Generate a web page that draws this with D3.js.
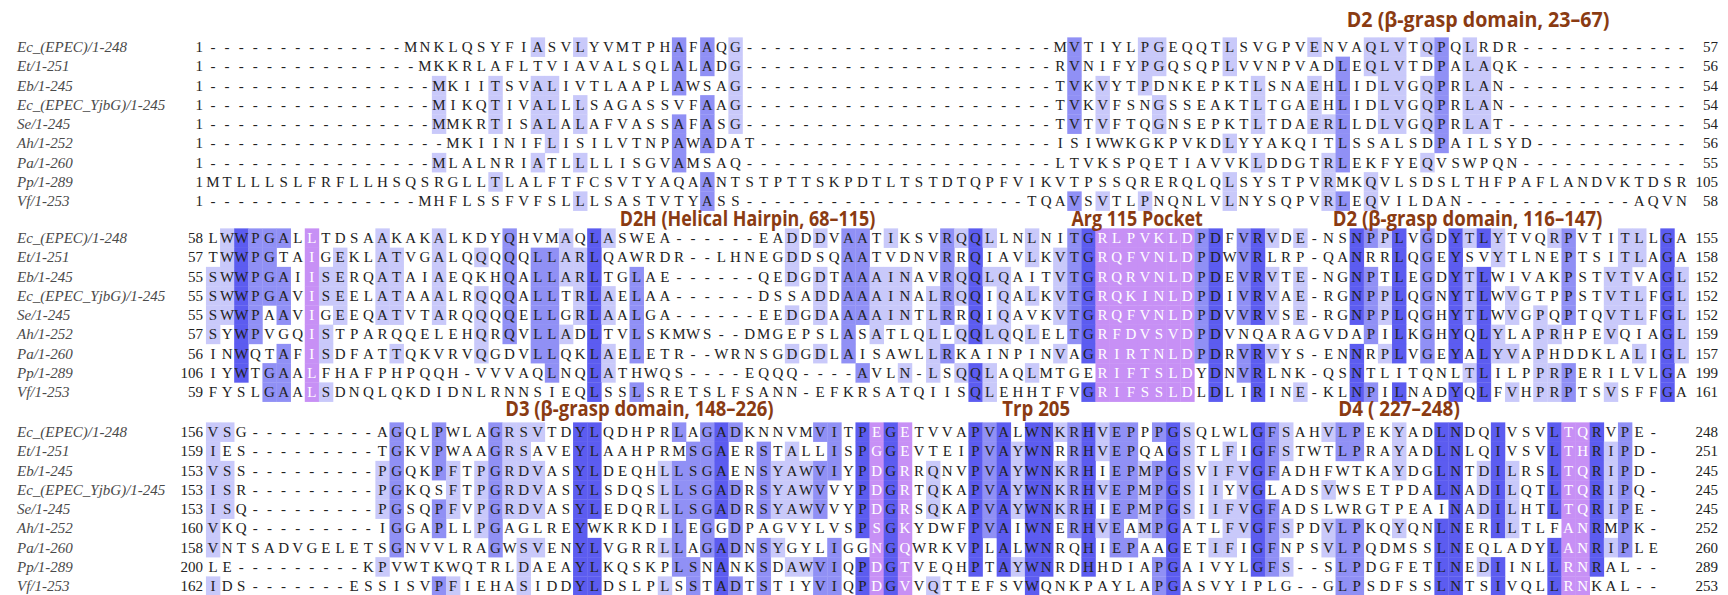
<!DOCTYPE html>
<html>
<head>
<meta charset="utf-8">
<title>YjbG family alignment</title>
<script src="https://cdnjs.cloudflare.com/ajax/libs/d3/7.8.5/d3.min.js"></script>
<style>
  html, body { margin: 0; padding: 0; background: #fff; }
  svg { display: block; }
  .seqname { font-family: "Liberation Serif", "DejaVu Serif", serif; font-style: italic; font-size: 15px; fill: #4a4a4a; }
  .pos { font-family: "Liberation Serif", "DejaVu Serif", serif; font-size: 15px; fill: #222; }
  .res { font-family: "Liberation Serif", "DejaVu Serif", serif; font-size: 15px; }
  .domain { font-family: "Open Sans", "Noto Sans", sans-serif; font-weight: 700; font-size: 21px; fill: #8a3b12; }
</style>
</head>
<body>
<svg id="aln" width="1728" height="595"></svg>
<script>
// ---- alignment data -------------------------------------------------------
const seqNames = [
  "Ec_(EPEC)/1-248", "Et/1-251", "Eb/1-245", "Ec_(EPEC_YjbG)/1-245",
  "Se/1-245", "Ah/1-252", "Pa/1-260", "Pp/1-289", "Vf/1-253"
];

// block 1: alignment columns 1-105
const block1 = [
  "--------------MNKLQSYFIASVLYVMTPHAFAQG----------------------MVTIYLPGEQQTLSVGPVENVAQLVTQPQLRDR------------",
  "---------------MKKRLAFLTVIAVALSQLALADG----------------------RVNIFYPGQSQPLVVNPVADLEQLVTDPALAQK------------",
  "----------------MKIITSVALIVTLAAPLAWSAG----------------------TVKVYTPDNKEPKTLSNAEHLIDLVGQPRLAN-------------",
  "----------------MIKQTIVALLLSAGASSVFAAG----------------------TVKVFSNGSSEAKTLTGAEHLIDLVGQPRLAN-------------",
  "----------------MMKRTISALALAFVASSAFASG----------------------TVTVFTQGNSEPKTLTDAERLLDLVGQPRLAT-------------",
  "-----------------MKIINIFLISILVTNPAWADAT---------------------ISIWWKGKPVKDLYYAKQITLSSALSDPAILSYD-----------",
  "----------------MLALNRIATLLLLISGVAMSAQ----------------------LTVKSPQETIAVVKLDDGTRLEKFYEQVSWPQN------------",
  "MTLLLSLFRFLLHSQSRGLLTLALFTFCSVTYAQAANTSTPTTSKPDTLTSTDTQPFVIKVTPSSQRERQLQLSYSTPVRMKQVLSDSLTHFPAFLANDVKTDSR",
  "---------------MHFLSSFVFSLLLSASTVTYASS--------------------TQAVSVTLPNQNLVLNYSQPVRLEQVILDAN------------AQVN"
];

// block 2: alignment columns 106-210
const block2 = [
  "LWWPGALLTDSAAKAKALKDYQHVMAQLASWEA------EADDDVAATIKSVRQQLLNLNITGRLPVKLDPDFVRVDE-NSNPPLVGDYTLYTVQRPVTITLLGA",
  "TWWPGTAIGEKLATVGALQQQQQLLARLQAWRDR--LHNEGDDSQAATVDNVRRQIAVLKVTGRQFVNLDPDWVRLRP-QANRRLQGEYSVYTLNEPTSITLAGA",
  "SWWPGAIISERQATAIAEQKHQALLARLTGLAE------QEDGDTAAAINAVRQQLQAITVTGRQRVNLDPDEVRVTE-NGNPTLEGDYTLWIVAKPSTVTVAGL",
  "SWWPGAVISEELATAAALRQQQALLTRLAELAA------DSSADDAAAINALRQQIQALKVTGRQKINLDPDIVRVAE-RGNPPLQGNYTLWVGTPPSTVTLFGL",
  "SWWPAAVIGEEQATVTARQQQQELLGRLAALGA------EEDGDAAAAINTLRRQIQAVKVTGRQFVNLDPDVVRVSE-RGNPPLQGHYTLWVGPQPTQVTLFGL",
  "SYWPVGQISTPARQQELEHQRQVLLADLTVLSKMWS--DMGEPSLASATLQLLQQLQQLELTGRFDVSVDPDVNQARAGVDAPILKGHYQLYLAPRHPEVQIAGL",
  "INWQTAFISDFATTQKVRVQGDVLLQKLAELETR--WRNSGDGDLAISAWLLRKAINPINVAGRIRTNLDPDRVRVYS-ENNRPLVGEYALYVAPHDDKLALIGL",
  "IYWTGAALFHAFPHPQQH-VVVAQLNQLATHWQS----EQQQ----AVLN-LSQQLAQLMTGERIFTSLDYDNVRLNK-QSNTLITQNLTLILPPRPERILVLGA",
  "FYSLGAALSDNQLQKDIDNLRNNSIEQLSSLSRETSLFSANN-EFKRSATQIISQLEHHTFVGRIFSSLDLDLIRINE-KLNPILNADYQLFVHPRPTSVSFFGA"
];

// block 3: alignment columns 211-313
const block3 = [
  "VSG---------AGQLPWLAGRSVTDYLQDHPRLAGADKNNVMVITPEGETVVAPVALWNKRHVEPPPGSQLWLGFSAHVLPEKYADLNDQIVSVLTQRVPE-",
  "IES---------TGKVPWAAGRSAVEYLAAHPRMSGAERSTALLISPGGEVTEIPVAYWNRRHVEPQAGSTLFIGFSTWTLPRAYADLNLQIVSVLTHRIPD-",
  "VSS---------PGQKPFTPGRDVASYLDEQHLLSGAENSYAWVIYPDGRRQNVPVAYWNKRHIEPMPGSVIFVGFADHFWTKAYDGLNTDILRSLTQRIPD-",
  "ISR---------PGKQSFTPGRDVASYLSDQSLLSGADRSYAWVVYPDGRTQKAPVAYWNKRHVEPMPGSIIYVGLADSVWSETPDALNADILQTLTQRIPQ-",
  "ISQ---------PGSQPFVPGRDVASYLEDQRLLSGADRSYAWVVYPDGRSQKAPVAYWNKRHIEPMPGSIIFVGFADSLWRGTPEAINADILHTLTQRIPE-",
  "VKQ---------IGGAPLLPGAGLREYWKRKDILEGGDPAGVYLVSPSGKYDWFPVAIWNERHVEAMPGATLFVGFSPDVLPKQYQNLNERILTLFANRMPK-",
  "VNTSADVGELETSGNVVLRAGWSVENYLVGRRLLAGADNSYGYLIGGNGQWRKVPLALWNRQHIEPAAGETIFIGFNPSVLPQDMSSLNEQLADYLANRIPLE",
  "LE---------KPVWTKWQTRLDAEAYLKQSKPLSNANKSDAWVIQPDGTVEQHPTAYWNRDHHDIAPGAIVYLGFS--SLPDGFETLNEDIINLLRNRAL--",
  "IDS-------ESSISVPFIEHASIDDYLDSLPLSSTADTSTIYVIQPDGVVQTTEFSVWQNKPAYLAPGASVYIPLG--GLPSDFSSLNTSIVQLLRNKAL--"
];

// residue numbers at the left and right of each block
const startNumbers = [
  [1, 1, 1, 1, 1, 1, 1, 1, 1],
  [58, 57, 55, 55, 55, 57, 56, 106, 59],
  [156, 159, 153, 153, 153, 160, 158, 200, 162]
];
const endNumbers = [
  [57, 56, 54, 54, 54, 56, 55, 105, 58],
  [155, 158, 152, 152, 152, 159, 157, 199, 161],
  [248, 251, 245, 245, 245, 252, 260, 289, 253]
];

// annotated columns (0-based within each block), drawn in violet
const annotatedColumns = [
  [],
  [7, 63, 64, 65, 66, 67, 68, 69],
  [47, 49, 96, 97]
];

// domain / site labels: block index and the column span they cover
const domainLabels = [
  { block: 0, text: "D2 (\u03B2-grasp domain, 23\u201367)", from: 80.8, to: 99.4 },
  { block: 1, text: "D2H (Helical Hairpin, 68\u2013115)", from: 29.3, to: 47.4 },
  { block: 1, text: "Arg 115 Pocket", from: 61.3, to: 70.6 },
  { block: 1, text: "D2 (\u03B2-grasp domain, 116\u2013147)", from: 79.8, to: 98.9 },
  { block: 2, text: "D3 (\u03B2-grasp domain, 148\u2013226)", from: 21.2, to: 40.2 },
  { block: 2, text: "Trp 205", from: 56.4, to: 61.2 },
  { block: 2, text: "D4 ( 227\u2013248)", from: 80.2, to: 88.8 }
];

// ---- layout ----------------------------------------------------------------
const blocks = [block1, block2, block3];
const cellW = 14.12, cellH = 19.25;
const firstRowY = [47, 238, 432];       // centre of the first row of each block
const labelBaseline = [27, 226, 416];   // baseline of the domain labels per block
const nameX = 17, startNumX = 203, endNumX = 1718;

// percentage identity shading (Jalview style)
const pidColour = d3.scaleThreshold()
  .domain([40, 60, 80])
  .range([null, "#c9c9fa", "#9090f5", "#5c5cf0"]);
const annotatedFill = "#c790f5";

const x = d3.scaleLinear().domain([0, 1]).range([213, 213 + cellW]);
const rowOffset = d3.scaleLinear().domain([0, 1]).range([0, cellH]);

function consensus(rows, j) {
  const counts = d3.rollup(rows.map(r => r[j]).filter(c => c !== "-"), v => v.length, c => c);
  const max = d3.max(counts.values()) || 0;
  const top = new Set([...counts].filter(([, n]) => n === max).map(([c]) => c));
  return { top, pct: max / rows.length * 100 };
}

const svg = d3.select("#aln");

blocks.forEach((rows, b) => {
  const g = svg.append("g").attr("class", "block");
  const nCols = rows[0].length;
  const cons = d3.range(nCols).map(j => consensus(rows, j));
  const marked = new Set(annotatedColumns[b]);

  const cells = [];
  rows.forEach((seq, r) => {
    [...seq].forEach((c, j) => {
      let fill = null, text = "#222";
      if (marked.has(j)) { fill = annotatedFill; text = "#fff"; }
      else if (c !== "-" && cons[j].top.has(c)) fill = pidColour(cons[j].pct);
      cells.push({ r, j, c, fill, text });
    });
  });

  const cy = r => firstRowY[b] + rowOffset(r);

  g.selectAll("rect.cell")
    .data(cells.filter(d => d.fill))
    .join("rect")
    .attr("class", "cell")
    .attr("x", d => x(d.j) - cellW / 2)
    .attr("y", d => cy(d.r) - cellH / 2)
    .attr("width", cellW + 0.3)
    .attr("height", cellH + 0.3)
    .attr("fill", d => d.fill);

  g.selectAll("text.res")
    .data(cells)
    .join("text")
    .attr("class", "res")
    .attr("x", d => x(d.j))
    .attr("y", d => cy(d.r) + 5)
    .attr("text-anchor", "middle")
    .attr("fill", d => d.text)
    .text(d => d.c);

  g.selectAll("text.seqname")
    .data(seqNames)
    .join("text")
    .attr("class", "seqname")
    .attr("x", nameX)
    .attr("y", (d, r) => cy(r) + 5)
    .text(d => d);

  g.selectAll("text.start")
    .data(startNumbers[b])
    .join("text")
    .attr("class", "pos start")
    .attr("x", startNumX)
    .attr("y", (d, r) => cy(r) + 5)
    .attr("text-anchor", "end")
    .text(d => d);

  g.selectAll("text.end")
    .data(endNumbers[b])
    .join("text")
    .attr("class", "pos end")
    .attr("x", endNumX)
    .attr("y", (d, r) => cy(r) + 5)
    .attr("text-anchor", "end")
    .text(d => d);
});

svg.append("g").selectAll("text.domain")
  .data(domainLabels)
  .join("text")
  .attr("class", "domain")
  .attr("x", d => x(d.from) - cellW / 2)
  .attr("y", d => labelBaseline[d.block])
  .attr("textLength", d => (d.to - d.from) * cellW)
  .attr("lengthAdjust", "spacingAndGlyphs")
  .text(d => d.text);
</script>
</body>
</html>
